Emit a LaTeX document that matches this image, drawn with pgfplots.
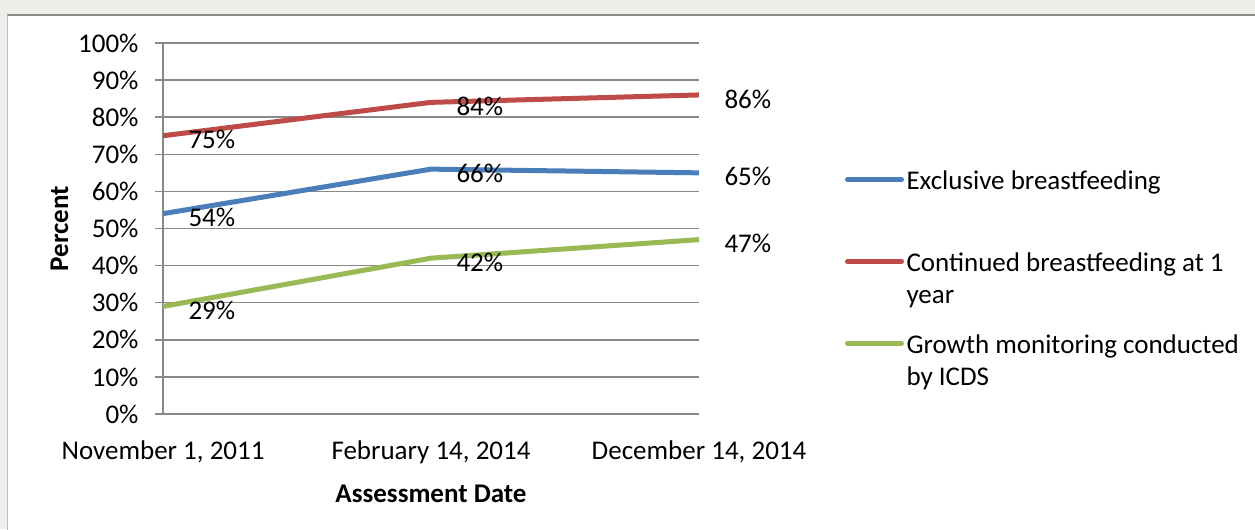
\documentclass[border=0pt]{standalone}
\usepackage{fontspec}
\setmainfont{Carlito}
\usepackage{pgfplots}
\pgfplotsset{compat=1.18}
\definecolor{bgc}{HTML}{EFEEEA}
\definecolor{frm}{HTML}{888888}
\definecolor{grd}{HTML}{898989}
\definecolor{cblue}{HTML}{4A7EBB}
\definecolor{cred}{HTML}{BE4B48}
\definecolor{cgreen}{HTML}{98B954}
\newcommand\legtwo[2]{\vtop{\hbox{\strut #1}\hbox{\strut #2}}}
\begin{document}
\fontsize{10.8}{13}\selectfont
\begin{tikzpicture}
\useasboundingbox (0,0) rectangle (502pt,211.6pt);
\clip (0,0) rectangle (502pt,211.6pt);
\fill[bgc] (0,0) rectangle (502pt,211.6pt);
\fill[white] (2.8pt,-5pt) rectangle (510pt,205.6pt);
\draw[frm, line width=0.8pt] (2.8pt,205.6pt) -- (510pt,205.6pt);
\draw[gray!50, line width=0.4pt] (2.8pt,-5pt) -- (2.8pt,205.6pt);
\begin{axis}[
  at={(65.2pt,46pt)}, anchor=south west,
  scale only axis, width=214.4pt, height=148.4pt,
  xmin=0, xmax=2, ymin=0, ymax=100,
  /pgf/number format/assume math mode=true,
  xtick={0,1,2},
  xticklabels={{November 1, 2011},{February 14, 2014},{December 14, 2014}},
  ytick={0,10,20,30,40,50,60,70,80,90,100},
  yticklabels={0\%,10\%,20\%,30\%,40\%,50\%,60\%,70\%,80\%,90\%,100\%},
  ymajorgrids, grid style={grd, line width=0.6pt},
  axis x line*=bottom, axis y line*=left,
  axis line style={grd, line width=0.6pt, -},
  tick align=outside, major tick length=3.2pt,
  xtick style={draw=none}, ytick style={grd, line width=0.6pt},
  yticklabel style={inner sep=0pt, anchor=east, xshift=-6.4pt},
  xticklabel style={inner sep=0pt, anchor=base, yshift=-15pt},
  xlabel={\bfseries Assessment Date},
  ylabel={\bfseries Percent},
  xlabel style={at={(axis description cs:0.5,-0.2372)}, anchor=base, inner sep=0pt},
  ylabel style={at={(axis description cs:-0.1931,0.5)}, anchor=center, inner sep=0pt},
  nodes near coords={\pgfmathprintnumber{\pgfplotspointmeta}\%},
  every node near coord/.append style={anchor=west, inner sep=0pt, xshift=9.2pt, yshift=-1.6pt, text=black},
  legend cell align=left,
  legend image code/.code={\draw[#1, line cap=round] (0pt,4pt) -- (21.6pt,4pt);},
  legend style={draw=none, fill=none, inner sep=0pt, outer sep=0pt,
    at={(axis description cs:1.2724,0.666)}, anchor=north west,
    row sep=22pt, column sep=1pt, cells={anchor=base west},
    nodes={inner sep=0pt}},
]
\addplot[cblue, line width=2pt, line join=round] coordinates {(0,54) (1,66) (2,65)};
\addlegendentry{\legtwo{Exclusive breastfeeding}{}}
\addplot[cred, line width=2pt, line join=round] coordinates {(0,75) (1,84) (2,86)};
\addlegendentry{\legtwo{Continued breastfeeding at 1}{year}}
\addplot[cgreen, line width=2pt, line join=round] coordinates {(0,29) (1,42) (2,47)};
\addlegendentry{\legtwo{Growth monitoring conducted}{by ICDS}}
\end{axis}
\end{tikzpicture}
\end{document}
